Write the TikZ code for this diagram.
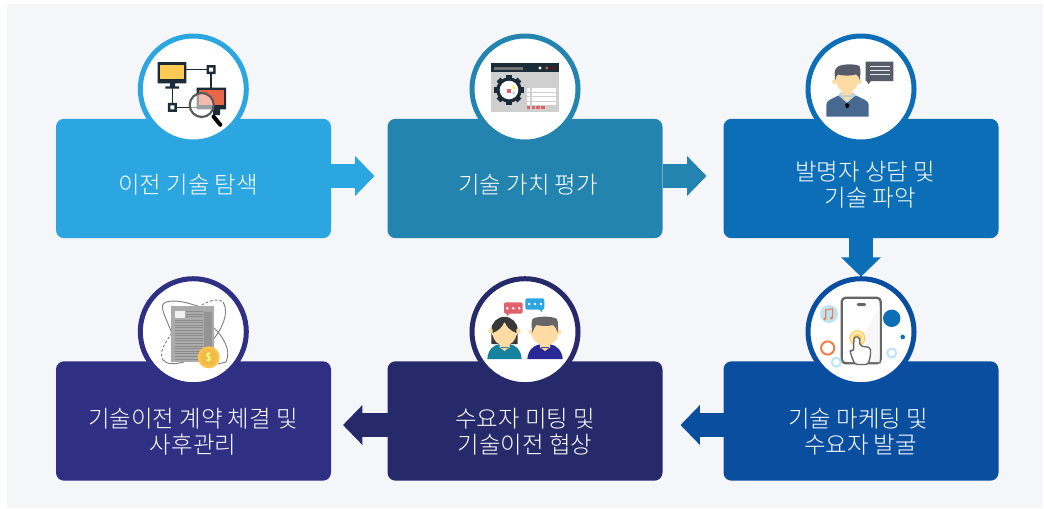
\documentclass[tikz,border=0pt]{standalone}
\usepackage{fontspec}
\newfontfamily\krfont{Noto Sans CJK KR Light}
\usetikzlibrary{arrows.meta}
\definecolor{pagebg}{HTML}{F5F6F9}
\definecolor{stepA}{HTML}{2CA6E0}
\definecolor{stepB}{HTML}{2484B0}
\definecolor{stepC}{HTML}{0D6EB8}
\definecolor{stepD}{HTML}{0A4E9F}
\definecolor{stepE}{HTML}{262A6A}
\definecolor{stepF}{HTML}{2F3083}
\definecolor{icondark}{HTML}{1C2B38}
\definecolor{skin}{HTML}{FFDBA4}
\definecolor{softblue}{HTML}{BDE3F5}
\definecolor{softred}{HTML}{E0606C}
\definecolor{softyellow}{HTML}{FFCB52}
\definecolor{softorange}{HTML}{F07F4C}
\definecolor{screenred}{HTML}{E8664A}
\definecolor{slate}{HTML}{565B69}
\definecolor{jacket}{HTML}{47698F}
\tikzset{
	stepbox/.style={draw=none, fill=#1, rectangle, rounded corners=6pt, outer sep=0pt, inner sep=0pt, minimum width=206.25pt, minimum height=89.5pt},
	iconring/.style={draw=#1, fill=white, circle, line width=3.75pt, inner sep=0pt, outer sep=0pt, minimum size=79.5pt},
	steptext/.style={text=white, align=center, inner sep=0pt, font=\krfont\fontsize{17.6}{19.5}\selectfont},
	blockarrow/.style={draw=#1, line width=18.5pt, -{Triangle[length=14.5pt, width=29pt]}}
}
\begin{document}
\begin{tikzpicture}[x=.75pt, y=-.75pt]
	\useasboundingbox (0,0) rectangle (1044,508);
	\fill[pagebg] (7,4) rectangle (1043,508);

	\node[stepbox=stepA] (A)at(193.5, 178.5) {};
	\node[stepbox=stepB] (B)at(525, 178.5) {};
	\node[stepbox=stepC] (C)at(861, 178.5) {};
	\node[stepbox=stepD] (D)at(861, 421) {};
	\node[stepbox=stepE] (E)at(525, 421) {};
	\node[stepbox=stepF] (F)at(193.5, 421) {};

	\coordinate (rowa)at(0, 176);
	\coordinate (rowb)at(0, 425);
	\node[iconring=stepA] (Ai)at(193.3, 89) {};
	\node[iconring=stepB] (Bi)at(525, 89) {};
	\node[iconring=stepC] (Ci)at(861, 89) {};
	\node[iconring=stepD] (Di)at(861, 331.7) {};
	\node[iconring=stepE] (Ei)at(525, 331.7) {};
	\node[iconring=stepF] (Fi)at(193.3, 331.7) {};

	\draw[blockarrow=stepA, shorten >=9.75pt] (A.east |- rowa) -- (B.west |- rowa);
	\draw[blockarrow=stepB, shorten >=12.75pt] (B.east |- rowa) -- (C.west |- rowa);
	\draw[blockarrow=stepC, shorten >=1.5pt] (C.south) -- (Di.north);
	\draw[blockarrow=stepD, shorten >=13.5pt] (D.west |- rowb) -- (E.east |- rowb);
	\draw[blockarrow=stepE, shorten >=9pt] (E.west |- rowb) -- (F.east |- rowb);

	\node[steptext] (At)at(188, 185) {이전 기술 탐색};
	\node[steptext] (Bt)at(528, 185) {기술 가치 평가};
	\node[steptext] (Ct)at(865, 185) {발명자 상담 및\\\ \ 기술 파악};
	\node[steptext] (Dt)at(858, 432) {기술 마케팅 및\\\ 수요자 발굴};
	\node[steptext] (Et)at(525, 432) {수요자 미팅 및\\기술이전 협상};
	\node[steptext] (Ft)at(193, 432) {기술이전 계약 체결 및\\사후관리};

	\draw[icondark, line width=.9pt] (180,69.7) -- (211,69.7) -- (211,95) (172.3,85) -- (172.3,107.3) -- (200,107.3);
	\fill[icondark] (157.7,62) rectangle (186.3,83.3) (170,83) rectangle (175,87) (165.3,86.3) rectangle (179,88.7);
	\fill[softyellow] (160,64.5) rectangle (184,79);
	\fill[icondark] (206.5,65.2) rectangle (215.5,74.2) (167.8,102.8) rectangle (176.8,111.8);
	\fill[white] (209,67.7) rectangle (213,71.7) (170.3,105.3) rectangle (174.3,109.3);
	\fill[icondark] (196.7,87.7) rectangle (226,109.3) (213,109) rectangle (220,115);
	\fill[screenred] (199,90) rectangle (223.5,105);
	\fill[white, opacity=.55] (201.7,105) circle[radius=12];
	\draw[black!65, line width=1.6pt] (201.7,105) circle[radius=12];
	\draw[black, line width=3pt, line cap=round] (213.5,116.5) -- (220.3,124.8);

	\fill[black!19] (491.3,63.3) rectangle (558.7,111.7);
	\fill[icondark] (491.3,63.3) rectangle (558.7,72.3);
	\fill[black!55] (494.3,67) rectangle (522.7,69.7);
	\fill[white] (540,68) circle[radius=1.6];
	\fill[softorange!80!black] (546.7,68) circle[radius=1.6];
	\fill[red!60!black] (553.3,68) circle[radius=1.6];
	\foreach \a in {0,45,...,315}
		\fill[icondark, rotate around={\a:(509,90)}] (506.3,75.2) rectangle (511.7,80);
	\fill[icondark] (509,90) circle[radius=12.7];
	\fill[white] (509,90) circle[radius=9.3];
	\fill[softred] (507.2,89) rectangle (510.8,92.6);
	\fill[yellow!60] (513.7,87.7) circle[radius=1.9];
	\fill[softblue] (513.7,92.7) circle[radius=1.9];
	\foreach \y in {88.3,92.7,97.3,101.7}{
		\fill[white] (526.7,\y) rectangle (530,\y+3.3);
		\fill[white] (531.7,\y) rectangle (556,\y+3.3);
	}
	\foreach \x in {526.7,531.5,536.3,541.3}
		\fill[softred] (\x,106) rectangle (\x+3.3,109.3);

	\fill[slate] (865.7,61.7) rectangle (893.3,81) (866,80) -- (868.3,84) -- (872,80) -- cycle;
	\draw[white!85!gray, line width=.6pt] (870,66.7) -- (890,66.7) (870,70.7) -- (890,70.7) (870,74.7) -- (890,74.7);
	\fill[jacket] (826.3,116.7) -- (868.7,116.7) -- (868.7,105) .. controls (868.7,100) and (862,99) .. (856,95.5) -- (838.5,95.5) .. controls (832,99) and (826.3,100) .. (826.3,105) -- cycle;
	\fill[softblue!80!gray] (838,95) -- (847,103) -- (856,95) -- (852,92) -- (842,92) -- cycle;
	\fill[skin] (842,88) rectangle (852,97) (847,102) -- (841,95) -- (853,95) -- cycle;
	\fill[skin] (835.5,75) .. controls (835,85) and (840,93) .. (847,93) .. controls (854,93) and (859,85) .. (859,75) -- cycle;
	\fill[skin] (834.5,81.5) circle[radius=2.4] (859.5,81.5) circle[radius=2.4];
	\fill[slate] (835.5,80) .. controls (833,70) and (836,66) .. (842,65) .. controls (848,64) and (856,64) .. (859.5,66) .. controls (861,70) and (860.5,75) .. (859.5,80) .. controls (859,77) and (858,75) .. (856,74.5) .. controls (850,76) and (843,76) .. (838,74.5) .. controls (836.5,75) and (836,77) .. (835.5,80) -- cycle;
	\fill[black] (847.3,102.5) -- (849.5,105) -- (848,108) -- (846.5,108) -- (845,105) -- cycle;

	\draw[black!60, line width=1.7pt, fill=white, rounded corners=3pt] (841.7,297.7) rectangle (880.7,363.3);
	\fill[black!3] (849,362) -- (879.5,306) -- (879.5,362) -- cycle;
	\fill[black!60, rounded corners=1pt] (856.7,303) rectangle (866,306);
	\fill[stepC] (891.7,318.3) circle[radius=8.7];
	\fill[stepC] (902.7,337) circle[radius=2.3];
	\fill[softblue] (829,314) circle[radius=9];
	\draw[softorange, line width=.9pt] (825.8,319) -- (825.8,310) -- (832.6,308.8) -- (832.6,318);
	\fill[softorange] (824.6,319) circle[radius=1.6] (831.4,318) circle[radius=1.6];
	\draw[softorange, line width=1.5pt] (827.7,348) circle[radius=6.6];
	\draw[softblue, line width=1.5pt] (836.3,362.3) circle[radius=4.5];
	\draw[softblue, line width=1.5pt] (891.7,353) circle[radius=4.5];
	\draw[softyellow, line width=.8pt, fill=softyellow!40] (857.3,338.3) circle[radius=7.5];
	\fill[softyellow] (857.3,338.3) circle[radius=4.5];
	\draw[black!60, line width=1pt, fill=white, rounded corners=1.5pt] (855,364.5) -- (851,355) -- (850,350.5) -- (853.5,350.5) -- (854,337) -- (859.5,337) -- (860,346) -- (870.5,347.5) -- (870.5,356) -- (868,364.5) -- cycle;

	\fill[softred, rounded corners=1.5pt] (504,302.3) rectangle (522.7,313.7);
	\fill[softred] (506,313) -- (507.3,316) -- (510,313) -- cycle;
	\fill[stepA, rounded corners=1.5pt] (525.3,298.3) rectangle (544.3,309.7);
	\fill[stepA] (539,309) -- (541.7,312) -- (542.8,309) -- cycle;
	\foreach \x in {507.3,513.3,519.3}
		\fill[white] (\x,308.3) circle[radius=1.4];
	\foreach \x in {529.3,535,541}
		\fill[white] (\x,304) circle[radius=1.4];
	\fill[black!78] (504.5,330) circle[radius=13.2] (491.3,330) rectangle (517.7,344);
	\fill[stepB!60!teal] (487.3,359) .. controls (488,349) and (494,345) .. (499,344.3) -- (510,344.3) .. controls (515,345) and (521,349) .. (521.7,359) -- cycle;
	\fill[skin] (499.5,340) rectangle (509.5,348) (504.5,351) -- (499.5,347) -- (509.5,347) -- cycle;
	\fill[skin] (504.5,334) ellipse[x radius=11.7, y radius=11.5];
	\fill[skin] (490.8,331) circle[radius=2.6] (518.2,331) circle[radius=2.6];
	\fill[black!78] (492.5,333) .. controls (498,331) and (503,327) .. (504.5,321) .. controls (506,327) and (511,331) .. (516.5,333) .. controls (517,323) and (511,318) .. (504.5,318) .. controls (498,318) and (492,323) .. (492.5,333) -- cycle;
	\fill[stepF!85!blue] (527.3,359) .. controls (528,350) and (534,345) .. (540,344.3) -- (550,344.3) .. controls (556,345) and (562,350) .. (562.7,359) -- cycle;
	\fill[skin] (540,340) rectangle (550,348) (545,351) -- (540,347) -- (550,347) -- cycle;
	\fill[skin] (545,333) ellipse[x radius=13.3, y radius=12.5];
	\fill[skin] (531.3,332) circle[radius=2.6] (558.7,332) circle[radius=2.6];
	\fill[black!60] (532.5,333) .. controls (531,325) and (531,319) .. (534,318) .. controls (541,316) and (552,316) .. (557,319) .. controls (558.5,323) and (558.5,328) .. (557.5,333) .. controls (556.5,329) and (555,326) .. (553,325) .. controls (548,326.5) and (541,326) .. (536.5,325) .. controls (535,326) and (533.5,329) .. (532.5,333) -- cycle;

	\draw[black!50, line width=.7pt] (171.7,333) .. controls (165,315) and (158,305) .. (166,302) .. controls (178,299) and (190,304) .. (198,306);
	\draw[black!50, line width=.7pt, dash pattern=on 2pt off 1.5pt] (171.7,333) .. controls (166,342) and (158,352) .. (163,360);
	\draw[black!50, line width=.7pt] (163,360) .. controls (167,365) and (176,364) .. (184,362);
	\draw[black!50, line width=.7pt, dash pattern=on 2pt off 1.5pt] (201.7,305) .. controls (208,301) and (218,298) .. (223,302);
	\draw[black!50, line width=.7pt] (223,302) .. controls (231,315) and (218,335) .. (210,343);
	\draw[black!50, line width=.7pt] (213,327) .. controls (222,335) and (232,350) .. (226,362) -- (218,364);
	\fill[black!33] (171.3,305.7) rectangle (214,362.3);
	\fill[black!42] (204,311.7) rectangle (212,355);
	\fill[black!6] (175,311) rectangle (184.7,317.7);
	\foreach \y in {311.5,314,316.5}
		\draw[black!45, line width=.6pt] (186,\y) -- (203,\y);
	\foreach \y in {320,322.6,...,360}
		\draw[black!45, line width=.7pt] (175,\y) -- (203,\y);
	\fill[softyellow!90!orange] (208.7,357.3) circle[radius=11];
	\fill[softyellow!90!orange!95!black] (208.7,357.3) circle[radius=8.5];
	\node[text=yellow!50!white, inner sep=0pt, font=\sffamily\bfseries\small] (coin)at(208.7, 357.3) {\$};
\end{tikzpicture}
\end{document}
